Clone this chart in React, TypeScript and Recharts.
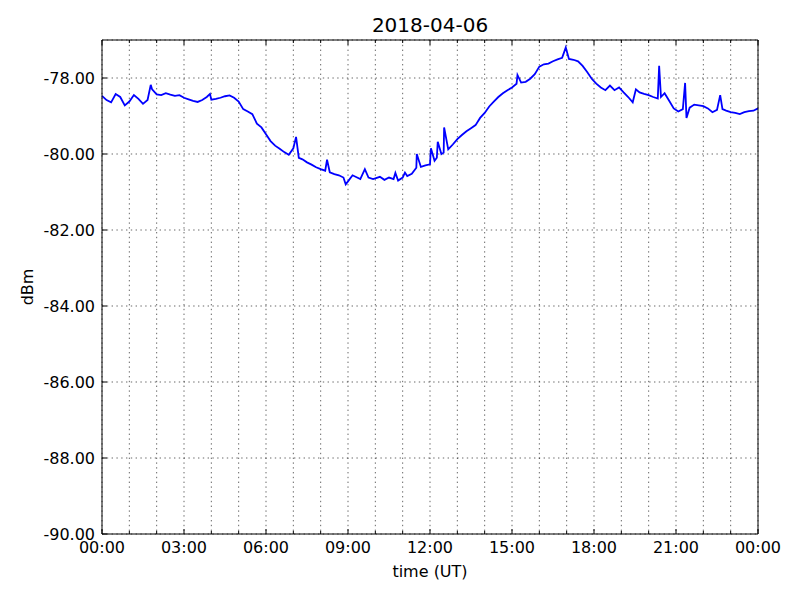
import React from 'react';
import { LineChart, Line, XAxis, YAxis, CartesianGrid } from 'recharts';

// minutes since 00:00 UT
const TIMES = [
  0, 10, 20, 30, 40, 50, 60, 70, 80, 90, 100, 107, 110, 120, 130, 140, 150, 160, 170,
  180, 190, 200, 210, 220, 230, 237, 240, 250, 260, 270, 280, 290,
  300, 310, 320, 330, 340, 350, 360, 370, 380, 390, 400, 410, 420, 426, 432, 440, 450, 460, 470,
  480, 490, 494, 500, 510, 520, 530, 535, 540, 550, 560, 567, 577, 585, 595,
  600, 610, 620, 630, 640, 644, 650, 660, 665, 670, 680, 690, 691, 700, 710,
  720, 722, 730, 735, 737, 745, 750, 751, 760, 770, 780, 790, 800, 810, 820, 830,
  840, 850, 860, 870, 880, 890, 900, 910, 912, 920, 930, 940, 950,
  960, 970, 980, 990, 1000, 1010, 1018, 1025, 1035, 1045, 1055, 1065, 1075,
  1085, 1095, 1105, 1115, 1125, 1135, 1145, 1155, 1165, 1172, 1180, 1190,
  1200, 1210, 1220, 1223, 1227, 1235, 1245, 1255, 1265, 1275, 1280, 1283, 1290, 1300, 1310,
  1320, 1330, 1340, 1350, 1357, 1362, 1370, 1380, 1390, 1400, 1410, 1420, 1430, 1440,
];

// received signal level, dBm
const LEVELS = [
  -78.47, -78.58, -78.64, -78.42, -78.5, -78.72, -78.62, -78.45, -78.55, -78.68, -78.58, -78.18, -78.3, -78.43, -78.45, -78.4, -78.44, -78.47, -78.45,
  -78.52, -78.56, -78.6, -78.63, -78.58, -78.5, -78.42, -78.57, -78.55, -78.52, -78.48, -78.46, -78.52,
  -78.62, -78.82, -78.88, -78.95, -79.2, -79.3, -79.48, -79.66, -79.78, -79.86, -79.95, -80.02, -79.85, -79.55, -80.1, -80.14, -80.22, -80.28, -80.35,
  -80.4, -80.44, -80.15, -80.48, -80.53, -80.56, -80.62, -80.8, -80.72, -80.56, -80.62, -80.66, -80.4, -80.62, -80.66,
  -80.64, -80.6, -80.68, -80.62, -80.66, -80.5, -80.7, -80.62, -80.49, -80.58, -80.52, -80.36, -80.0, -80.34, -80.3,
  -80.27, -79.85, -80.18, -80.1, -79.68, -80.0, -79.96, -79.3, -79.88, -79.75, -79.61, -79.5, -79.4, -79.32, -79.24, -79.05,
  -78.92, -78.75, -78.62, -78.5, -78.4, -78.32, -78.25, -78.15, -77.92, -78.12, -78.1, -78.02, -77.9,
  -77.7, -77.64, -77.62, -77.56, -77.51, -77.47, -77.2, -77.5, -77.52, -77.56, -77.68, -77.84, -78.02,
  -78.15, -78.25, -78.32, -78.2, -78.32, -78.25, -78.38, -78.5, -78.64, -78.3, -78.38, -78.42,
  -78.45, -78.5, -78.54, -77.68, -78.5, -78.4, -78.6, -78.8, -78.88, -78.82, -78.13, -79.05, -78.78, -78.7, -78.72,
  -78.74, -78.8, -78.9, -78.84, -78.45, -78.82, -78.86, -78.9, -78.92, -78.95, -78.9, -78.87, -78.86, -78.8,
];

const HOUR_TICKS = [
  0, 60, 120, 180, 240, 300, 360, 420, 480, 540, 600, 660, 720,
  780, 840, 900, 960, 1020, 1080, 1140, 1200, 1260, 1320, 1380, 1440,
];
const DBM_TICKS = [-90, -88, -86, -84, -82, -80, -78];

const data = TIMES.map((t, i) => ({ t, v: LEVELS[i] }));

const FONT = '"DejaVu Sans", sans-serif';

function fmtTime(m: number) {
  const h = Math.floor(m / 60) % 24;
  const mm = m % 60;
  return `${String(h).padStart(2, '0')}:${String(mm).padStart(2, '0')}`;
}

function BottomTick({ x, payload }: any) {
  const major = payload.value % 180 === 0;
  return (
    <g>
      <line x1={x} x2={x} y1={534} y2={534 - (major ? 5 : 3)} stroke="#000" />
      {major && (
        <text x={x} y={553} textAnchor="middle" fontSize={16} fontFamily={FONT} fill="#000">
          {fmtTime(payload.value)}
        </text>
      )}
    </g>
  );
}

function TopTick({ x, payload }: any) {
  const major = payload.value % 180 === 0;
  return <line x1={x} x2={x} y1={40} y2={40 + (major ? 5 : 3)} stroke="#000" />;
}

function LeftTick({ y, payload }: any) {
  return (
    <g>
      <line x1={102} x2={107} y1={y} y2={y} stroke="#000" />
      <text x={95} y={y + 6} textAnchor="end" fontSize={16} fontFamily={FONT} fill="#000">
        {payload.value.toFixed(2)}
      </text>
    </g>
  );
}

function RightTick({ y }: any) {
  return <line x1={758} x2={753} y1={y} y2={y} stroke="#000" />;
}

export default function App() {
  return (
    <div style={{ position: 'absolute', left: 0, top: 0, width: 800, height: 600, background: '#fff' }}>
      <svg width={800} height={600} style={{ position: 'absolute', left: 0, top: 0 }}>
        <text x={430} y={32} textAnchor="middle" fontSize={20} fontFamily={FONT} fill="#000">
          2018-04-06
        </text>
        <text x={430} y={577} textAnchor="middle" fontSize={16} fontFamily={FONT} fill="#000">
          time (UT)
        </text>
        <text x={33} y={287} textAnchor="middle" fontSize={16} fontFamily={FONT} fill="#000" transform="rotate(-90 33 287)">
          dBm
        </text>
      </svg>
      <div style={{ position: 'absolute', left: 0, top: 0 }}>
        <LineChart width={800} height={600} data={data} margin={{ top: 0, right: 0, bottom: 0, left: 0 }}>
          <CartesianGrid stroke="#000" strokeWidth={0.6} strokeDasharray="1.4 3.4" />
          <XAxis
            dataKey="t"
            type="number"
            domain={[0, 1440]}
            ticks={HOUR_TICKS}
            interval={0}
            height={66}
            tickSize={0}
            tickMargin={0}
            tickLine={false}
            axisLine={{ stroke: '#000' }}
            tick={BottomTick}
          />
          <XAxis
            xAxisId="top"
            orientation="top"
            dataKey="t"
            type="number"
            domain={[0, 1440]}
            ticks={HOUR_TICKS}
            interval={0}
            height={40}
            tickSize={0}
            tickMargin={0}
            tickLine={false}
            axisLine={{ stroke: '#000' }}
            tick={TopTick}
          />
          <YAxis
            type="number"
            domain={[-90, -77]}
            ticks={DBM_TICKS}
            interval={0}
            width={102}
            tickSize={0}
            tickMargin={0}
            tickLine={false}
            axisLine={{ stroke: '#000' }}
            tick={LeftTick}
          />
          <YAxis
            yAxisId="right"
            orientation="right"
            type="number"
            domain={[-90, -77]}
            ticks={DBM_TICKS}
            interval={0}
            width={42}
            tickSize={0}
            tickMargin={0}
            tickLine={false}
            axisLine={{ stroke: '#000' }}
            tick={RightTick}
          />
          <Line
            type="linear"
            dataKey="v"
            stroke="#0000ff"
            strokeWidth={1.8}
            dot={false}
            isAnimationActive={false}
          />
        </LineChart>
      </div>
    </div>
  );
}
